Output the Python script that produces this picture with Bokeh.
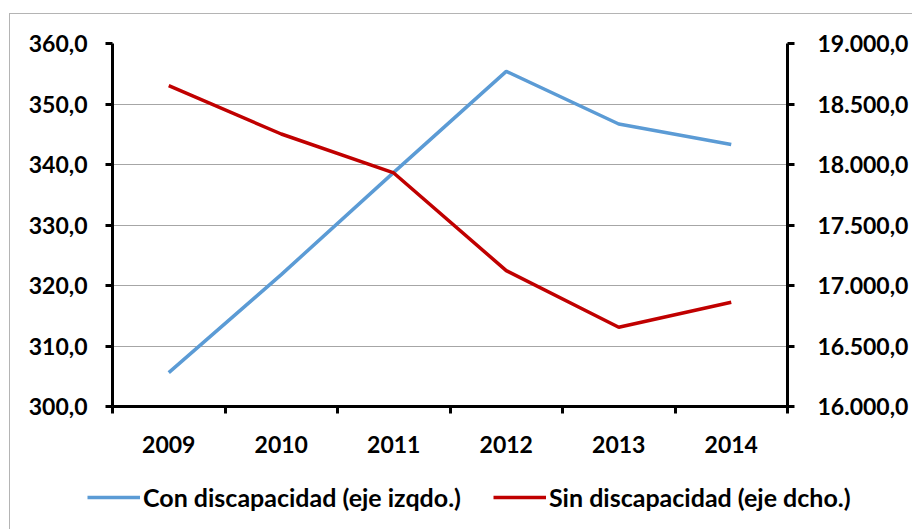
from bokeh.plotting import figure
from bokeh.layouts import column, row
from bokeh.models import (Range1d, LinearAxis, FixedTicker, Legend, LegendItem,
                          ColumnDataSource)
from bokeh.embed import file_html
from bokeh.resources import INLINE

years = ["2009", "2010", "2011", "2012", "2013", "2014"]
con_disc = [305.6, 321.8, 338.7, 355.4, 346.7, 343.3]
sin_disc = [18651, 18252, 17930, 17123, 16655, 16862]
left_ticks = [300, 310, 320, 330, 340, 350, 360]
left_labels = ["300,0", "310,0", "320,0", "330,0", "340,0", "350,0", "360,0"]
right_ticks = [16000, 16500, 17000, 17500, 18000, 18500, 19000]
right_labels = ["16.000,0", "16.500,0", "17.000,0", "17.500,0", "18.000,0", "18.500,0", "19.000,0"]
series_names = ["Con discapacidad (eje izqdo.)", "Sin discapacidad (eje dcho.)"]

xs = [i + 0.5 for i in range(len(years))]
src = ColumnDataSource(dict(x=xs, con=con_disc, sin=sin_disc))

FONT = "Lato"
FS = "23px"
BLUE = "#5B9BD5"
RED = "#C00000"
LW = 3.5

p = figure(width=902, height=456, output_backend="svg", toolbar_location=None,
           x_range=Range1d(0, len(years)), y_range=Range1d(300, 360),
           min_border_left=102, min_border_right=125, min_border_top=29,
           min_border_bottom=64, x_axis_location=None, y_axis_location=None)
p.extra_y_ranges = {"right": Range1d(16000, 19000)}
p.outline_line_color = None
p.background_fill_color = "white"
p.border_fill_color = "white"

def style_axis(ax):
    ax.axis_line_width = 3
    ax.axis_line_color = "black"
    ax.major_label_text_font = FONT
    ax.major_label_text_font_style = "bold"
    ax.major_label_text_font_size = FS
    ax.major_label_text_color = "black"

# bottom axis: labels at category centers, ticks at category boundaries
xax = LinearAxis(ticker=FixedTicker(ticks=xs, minor_ticks=list(range(len(years) + 1))))
style_axis(xax)
xax.major_tick_line_color = None
xax.minor_tick_line_color = "black"
xax.minor_tick_line_width = 3
xax.minor_tick_in = 0
xax.minor_tick_out = 7
xax.major_label_overrides = {x: y for x, y in zip(xs, years)}
xax.major_label_standoff = 22
p.add_layout(xax, "below")

lax = LinearAxis(ticker=FixedTicker(ticks=left_ticks, minor_ticks=[]))
style_axis(lax)
lax.major_tick_line_width = 3
lax.major_tick_in = 0
lax.major_tick_out = 7
lax.minor_tick_line_color = None
lax.major_label_standoff = 18
lax.major_label_overrides = {t: l for t, l in zip(left_ticks, left_labels)}
p.add_layout(lax, "left")

rax = LinearAxis(y_range_name="right", ticker=FixedTicker(ticks=right_ticks, minor_ticks=[]))
style_axis(rax)
rax.major_tick_line_width = 3
rax.major_tick_in = 0
rax.major_tick_out = 7
rax.minor_tick_line_color = None
rax.major_label_standoff = 23
rax.major_label_overrides = {t: l for t, l in zip(right_ticks, right_labels)}
p.add_layout(rax, "right")

p.xgrid.visible = False
p.ygrid.ticker = FixedTicker(ticks=left_ticks[1:])
p.ygrid.grid_line_color = "#a6a6a6"
p.ygrid.grid_line_width = 1

p.line("x", "con", source=src, line_color=BLUE, line_width=LW)
p.line("x", "sin", source=src, line_color=RED, line_width=LW, y_range_name="right")

# legend strip below the chart (its own figure, frame covers the whole strip)
lg = figure(width=902, height=59, output_backend="svg", toolbar_location=None,
            x_range=Range1d(0, 1), y_range=Range1d(0, 1),
            min_border=0, min_border_left=0, min_border_right=0,
            min_border_top=0, min_border_bottom=0,
            x_axis_location=None, y_axis_location=None)
lg.outline_line_color = None
lg.xgrid.visible = False
lg.ygrid.visible = False
nan_src = ColumnDataSource(dict(x=[float("nan")], y=[float("nan")]))
l1 = lg.line("x", "y", source=nan_src, line_color=BLUE, line_width=LW)
l2 = lg.line("x", "y", source=nan_src, line_color=RED, line_width=LW)
legend = Legend(items=[LegendItem(label=series_names[0], renderers=[l1]),
                       LegendItem(label=series_names[1], renderers=[l2])],
                orientation="horizontal", location=(77, 17),
                glyph_width=53, label_standoff=3, spacing=32, padding=0, margin=0,
                border_line_color=None, background_fill_alpha=0,
                label_text_font=FONT, label_text_font_style="bold",
                label_text_font_size="25px", label_text_color="black")
lg.add_layout(legend, "center")

layout = column(p, row(lg), spacing=0)
layout.styles = {"border-left": "1px solid #b4b4b4", "border-top": "1px solid #b4b4b4",
                 "margin-top": "13px", "margin-left": "9px"}

open("out.html", "w").write(file_html(layout, INLINE))
